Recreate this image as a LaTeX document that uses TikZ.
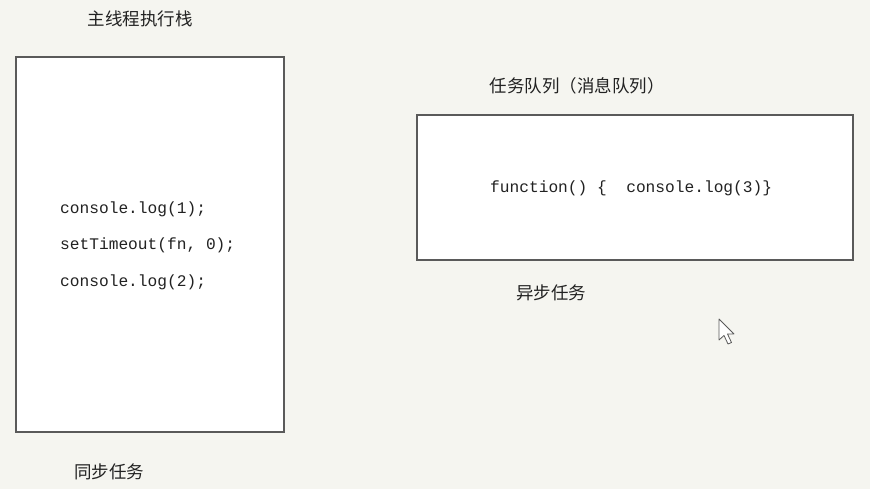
\documentclass[tikz,border=0pt]{standalone}
\usepackage{fontspec}
\setmonofont{Liberation Mono}
\newfontfamily\cjk{Noto Sans CJK SC}
\definecolor{bgcol}{HTML}{F5F5F0}
\definecolor{boxline}{HTML}{5A5A5A}
\definecolor{txt}{HTML}{222222}
\tikzset{
  panel/.style={draw=boxline, line width=1.6pt, fill=white},
  cjklabel/.style={text=txt, font=\cjk\fontsize{17.5}{19}\selectfont, inner sep=0pt},
  code/.style={text=txt, font=\ttfamily\fontsize{16.2}{18}\selectfont, inner sep=0pt, anchor=west},
}
\begin{document}
\begin{tikzpicture}[x=1pt,y=-1pt]
\fill[bgcol] (0,0) rectangle (870,489);
\useasboundingbox (0,0) rectangle (870,489);
% boxes
\draw[panel] (16,57) rectangle (284,432);
\draw[panel] (417,115) rectangle (853,260);
% labels
\node[cjklabel] (stack) at (140,19) {主线程执行栈};
\node[cjklabel] (sync) at (109,472) {同步任务};
\node[cjklabel] (queue) at (577,86) {任务队列（消息队列）};
\node[cjklabel] (async) at (551,293) {异步任务};
% code
\node[code] (c1) at (60,209) {console.log(1);};
\node[code] (c2) at (60,245) {setTimeout(fn, 0);};
\node[code] (c3) at (60,282) {console.log(2);};
\node[code] (f1) at (490,188) {function()\ \{\ \ console.log(3)\}};
% cursor
\draw[line width=0.8pt, draw=boxline, fill=white, line join=round]
  (719,319) -- (719,340) -- (724,335.5) -- (728,344) -- (731.5,342.5) -- (727.5,334) -- (734,334) -- cycle;
\end{tikzpicture}
\end{document}
